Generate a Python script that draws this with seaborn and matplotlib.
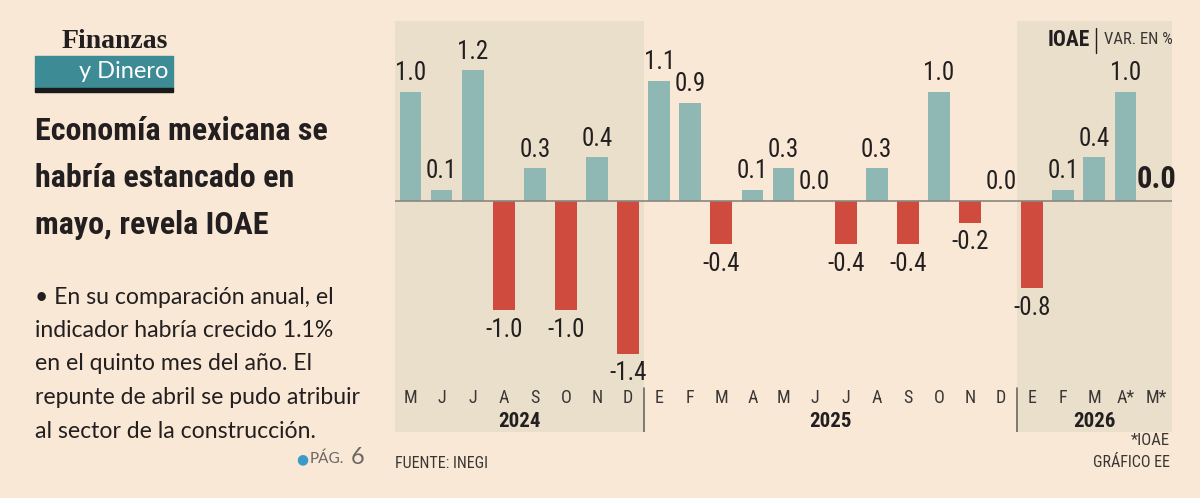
import pandas as pd
import seaborn as sns
import matplotlib.pyplot as plt
from matplotlib import font_manager
from matplotlib.patches import Rectangle

# Data: IOAE monthly variation (%)
meses = ['M', 'J', 'J', 'A', 'S', 'O', 'N', 'D',
         'E', 'F', 'M', 'A', 'M', 'J', 'J', 'A', 'S', 'O', 'N', 'D',
         'E', 'F', 'M', 'A*', 'M*']
anios = ['2024'] * 8 + ['2025'] * 12 + ['2026'] * 5
valores = [1.0, 0.1, 1.2, -1.0, 0.3, -1.0, 0.4, -1.4,
           1.1, 0.9, -0.4, 0.1, 0.3, 0.0, -0.4, 0.3, -0.4, 1.0, -0.2, 0.0,
           -0.8, 0.1, 0.4, 1.0, 0.0]
etiquetas_anio = ['2024', '2025', '2026']

BG = '#F8E8D5'
SHADE = '#EADFCB'
TEAL = '#8FB8B5'
RED = '#CF4B3E'
INK = '#231F20'


def pick(*names):
    have = {f.name for f in font_manager.fontManager.ttflist}
    for n in names:
        if n in have:
            return n
    return 'DejaVu Sans'


NARROW = pick('Liberation Sans Narrow', 'Roboto Condensed', 'Open Sans Condensed', 'DejaVu Sans')
SANS = pick('Lato', 'Noto Sans', 'DejaVu Sans')
SERIF = pick('Liberation Serif', 'DejaVu Serif')

sns.set_theme(style='white')
plt.rcParams['font.family'] = [NARROW, 'DejaVu Sans']

df = pd.DataFrame({'pos': range(len(valores)), 'mes': meses, 'anio': anios, 'valor': valores})
df['signo'] = ['pos' if v >= 0 else 'neg' for v in df['valor']]

fig = plt.figure(figsize=(12, 4.98), dpi=100)
fig.patch.set_facecolor(BG)

ax = fig.add_axes([395 / 1200, 66 / 498, 777 / 1200, 411 / 498])
ax.set_facecolor(BG)

sns.barplot(data=df, x='pos', y='valor', hue='signo',
            palette={'pos': TEAL, 'neg': RED}, dodge=False, width=0.7,
            saturation=1, errorbar=None, legend=False, ax=ax, zorder=3,
            linewidth=0, edgecolor='none')

ax.set_xlim(-0.5, len(valores) - 0.5)
ax.set_ylim(-2.12, 1.65)
ax.axvspan(-0.5, 7.5, color=SHADE, zorder=0, lw=0)
ax.axvspan(19.5, 24.5, color=SHADE, zorder=0, lw=0)
ax.axhline(0, color='#8a8680', lw=1.2, zorder=4)

for s in ax.spines.values():
    s.set_visible(False)
ax.set_xticks([])
ax.set_yticks([])
ax.set_xlabel('')
ax.set_ylabel('')

# value labels
for i, v in enumerate(valores):
    last = i == len(valores) - 1
    if v >= 0:
        ax.text(i, v + 0.06, f'{v:.1f}', ha='center', va='bottom',
                fontsize=22 if last else 18, color=INK,
                fontweight='bold' if last else 'normal', zorder=5)
    else:
        ax.text(i, v - 0.07, f'{v:.1f}', ha='center', va='top',
                fontsize=18, color=INK, zorder=5)

# month and year labels
for i, m in enumerate(meses):
    ax.text(i, -1.81, m, ha='center', va='center', fontsize=13, color='#3a3634')
for k, a in enumerate(etiquetas_anio):
    idx = [i for i, y in enumerate(anios) if y == a]
    ax.text(sum(idx) / len(idx), -2.02, a, ha='center', va='center',
            fontsize=15, fontweight='bold', color=INK)
for xb in [7.5, 19.5]:
    ax.plot([xb, xb], [-1.72, -2.12], color='#6b6763', lw=1.2, zorder=4)

# legend box text
ax.text(20.5, 1.48, 'IOAE', ha='left', va='center', fontsize=15.5,
        fontweight='bold', color=INK)
ax.plot([22.05, 22.05], [1.36, 1.59], color=INK, lw=1)
ax.text(22.3, 1.48, 'VAR. EN %', ha='left', va='center', fontsize=12, color='#3a3634')

# footnotes
fig.text(395 / 1200, 1 - 463 / 498, 'FUENTE: INEGI', ha='left', va='center',
         fontsize=11.5, color='#3a3634')
fig.text(1170 / 1200, 1 - 440 / 498, '*IOAE', ha='right', va='center',
         fontsize=12, color='#3a3634')
fig.text(1170 / 1200, 1 - 462 / 498, 'GRÁFICO EE', ha='right', va='center',
         fontsize=11.5, color='#3a3634')

# left panel
fig.text(115 / 1200, 1 - 41 / 498, 'Finanzas', ha='center', va='center',
         fontsize=20, fontweight='bold', family=SERIF, color=INK)
fig.patches.append(Rectangle((35 / 1200, 1 - 88 / 498), 138 / 1200, 32 / 498,
                             transform=fig.transFigure, color='#3D8B94', zorder=1))
fig.patches.append(Rectangle((35 / 1200, 1 - 92 / 498), 138 / 1200, 4 / 498,
                             transform=fig.transFigure, color='#1a1a1a', zorder=1))
fig.text(168 / 1200, 1 - 72 / 498, 'y Dinero', ha='right', va='center',
         fontsize=17, family=SANS, color='white')

titulo = ['Economía mexicana se', 'habría estancado en', 'mayo, revela IOAE']
for k, t in enumerate(titulo):
    fig.text(35 / 1200, 1 - (131 + 47 * k) / 498, t, ha='left', va='center',
             fontsize=23, fontweight='bold', color=INK)

texto = ['• En su comparación anual, el', 'indicador habría crecido 1.1%',
         'en el quinto mes del año. El', 'repunte de abril se pudo atribuir',
         'al sector de la construcción.']
for k, t in enumerate(texto):
    fig.text(35 / 1200, 1 - (297 + 33.5 * k) / 498, t, ha='left', va='center',
             fontsize=16.6, family=SANS, color=INK)

fig.text(302 / 1200, 1 - 459 / 498, '●', ha='center', va='center', fontsize=10,
         color='#3A9BC8', family='DejaVu Sans')
fig.text(310 / 1200, 1 - 459 / 498, 'PÁG.', ha='left', va='center', fontsize=11,
         family=SANS, color='#6b6763')
fig.text(351 / 1200, 1 - 457 / 498, '6', ha='left', va='center', fontsize=17,
         family=SANS, color='#6b6763')

fig.savefig('out.png', dpi=100, facecolor=BG)
